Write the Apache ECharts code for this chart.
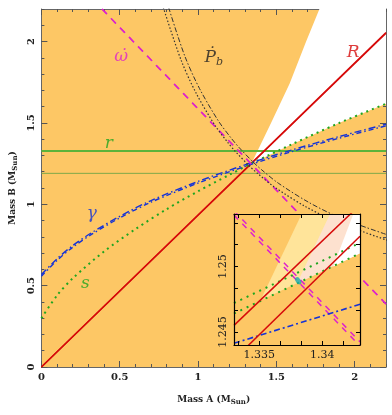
<!DOCTYPE html>
<html>
<head>
<meta charset="utf-8">
<script src="https://cdn.jsdelivr.net/npm/echarts@6/dist/echarts.min.js"></script>
<style>
html,body{margin:0;padding:0;background:#fff;}
#main{width:392px;height:415px;}
</style>
</head>
<body>
<div id="main"></div>
<script>
// tick positions, main panel (both axes 0 .. 2.2)
var mainMajor = [0, 0.5, 1, 1.5, 2];
var mainMinor = [0, 0.1, 0.2, 0.3, 0.4, 0.5, 0.6, 0.7, 0.8, 0.9, 1, 1.1, 1.2, 1.3, 1.4, 1.5, 1.6, 1.7, 1.8, 1.9, 2, 2.1, 2.2];
// inset ticks / labels
var insetX = [1.333, 1.343];
var insetY = [1.244, 1.254];
var insetXTicks = [1.33333, 1.335, 1.33667, 1.33833, 1.34, 1.34167];
var insetXLabels = [1.335, 1.34];
var insetYTicks = [1.245, 1.24667, 1.24833, 1.25, 1.25167, 1.25333];
var insetYLabels = [1.245, 1.25];

// main panel curves [mass A, mass B]
var ratioHigh = [[0, 0], [2.2, 2.0557]];
var ratioLow = [[0, 0], [2.2, 2.0511]];
var omegaA = [[0.386, 2.2], [2.2, 0.386]];
var omegaB = [[0.388, 2.2], [2.2, 0.388]];
var shapiroRHigh = [[0, 1.328], [2.2, 1.328]];
var shapiroRLow = [[0, 1.19], [2.2, 1.19]];
var shapiroS = [[0, 0.30], [0.1, 0.44], [0.2, 0.545], [0.4, 0.71], [0.6, 0.847], [0.8, 0.97], [1.0, 1.08],
  [1.2, 1.181], [1.338, 1.249], [1.6, 1.369], [1.9, 1.499], [2.2, 1.618]];
var gammaHigh = [[0, 0.568], [0.1, 0.665], [0.2, 0.746], [0.322, 0.826], [0.5, 0.926], [0.7, 1.023], [1.0, 1.140],
  [1.338, 1.255], [1.6, 1.334], [1.9, 1.416], [2.2, 1.492]];
var gammaLow = [[0, 0.558], [0.1, 0.655], [0.2, 0.736], [0.322, 0.816], [0.5, 0.916], [0.7, 1.013], [1.0, 1.130],
  [1.338, 1.245], [1.6, 1.324], [1.9, 1.406], [2.2, 1.482]];
var pbdotOuter = [[0.812, 2.21], [0.915, 1.912], [1.009, 1.712], [1.13, 1.512], [1.212, 1.406], [1.261, 1.35],
  [1.35, 1.261], [1.406, 1.212], [1.512, 1.13], [1.712, 1.009], [1.912, 0.915], [2.21, 0.812]];
var pbdotInner = [[0.778, 2.21], [0.891, 1.888], [0.985, 1.688], [1.106, 1.488], [1.188, 1.382], [1.237, 1.326],
  [1.326, 1.237], [1.382, 1.188], [1.488, 1.106], [1.688, 0.985], [1.888, 0.891], [2.21, 0.778]];
// allowed region (white)
var allowedRegion = [[1.341, 1.25], [1.466, 1.5], [1.585, 1.742], [1.69, 2.0], [1.775, 2.2], [2.2, 2.2],
  [2.2, 1.618], [1.9, 1.499], [1.6, 1.369], [1.341, 1.25]];

// inset curves
var insetRatioHigh = [[1.333, 1.2455], [1.343, 1.2547]];
var insetRatioLow = [[1.333, 1.2429], [1.343, 1.2523]];
var insetOmegaA = [[1.333, 1.25392], [1.343, 1.24392]];
var insetOmegaB = [[1.333, 1.25424], [1.343, 1.24424]];
var insetSHigh = [[1.333, 1.2472], [1.343, 1.2518]];
var insetSLow = [[1.333, 1.2464], [1.343, 1.2510]];
var insetGamma = [[1.333, 1.24413], [1.343, 1.24711]];
var insetYellow = [[1.3351, 1.2474], [1.33837, 1.254], [1.343, 1.254], [1.343, 1.2510]];
var insetPink = [[1.3380, 1.2487], [1.34062, 1.254], [1.343, 1.254], [1.343, 1.2510]];
var insetWhite = [[1.34088, 1.2500], [1.34247, 1.254], [1.343, 1.254], [1.343, 1.2510]];
var bestFit = [[1.3381, 1.2489]];

// curve labels
var labelText = ['{d|ω̇}', '{d|Ṗ}{b|b}', 'R', 'r', 'γ', 's'];
var labelPos = [[0.51, 1.91], [1.10, 1.90], [1.99, 1.93], [0.43, 1.375], [0.322, 0.945], [0.28, 0.513]];
var labelColor = ['#dd22cc', '#222', '#d60a0a', '#1fa51f', '#1533d6', '#1fa51f'];

var ORANGE = '#fdc765';
var FONT = 'DejaVu Serif';

var myChart = echarts.init(document.getElementById('main'));

function polygon(points, color, xi, z) {
  return {
    type: 'custom', xAxisIndex: xi, yAxisIndex: xi, z: z, silent: true,
    data: [points[0]],
    renderItem: function (params, api) {
      return {
        type: 'polygon',
        shape: {points: points.map(function (p) { return api.coord(p); })},
        style: {fill: color}
      };
    }
  };
}
function line(data, color, width, type, xi, z, smooth) {
  return {
    type: 'line', data: data, xAxisIndex: xi, yAxisIndex: xi, z: z,
    showSymbol: false, symbol: 'none', smooth: smooth ? 0.3 : false, silent: true,
    lineStyle: {color: color, width: width, type: type}
  };
}
function xAx(opt) {
  return Object.assign({
    type: 'value', gridIndex: 0, min: 0, max: 2.2, position: 'bottom',
    axisLine: {show: false, onZero: false},
    axisTick: {show: true, inside: true, length: 3, customValues: mainMinor, lineStyle: {color: '#555'}},
    axisLabel: {show: false}, splitLine: {show: false}
  }, opt);
}
function yAx(opt) {
  return Object.assign({
    type: 'value', gridIndex: 0, min: 0, max: 2.2, position: 'left',
    axisLine: {show: false, onZero: false},
    axisTick: {show: true, inside: true, length: 3, customValues: mainMinor, lineStyle: {color: '#555'}},
    axisLabel: {show: false}, splitLine: {show: false}
  }, opt);
}
var axisLine = {show: true, onZero: false, lineStyle: {color: '#666', width: 1}};
var majorTick = {show: true, inside: true, length: 6, customValues: mainMajor, lineStyle: {color: '#555'}};
var tickLabel = {
  show: true, customValues: mainMajor, fontFamily: FONT, fontSize: 10, fontWeight: 'bold', color: '#222',
  formatter: function (v) { return String(v); }
};
var nameStyle = {
  fontFamily: FONT, fontSize: 9, fontWeight: 'bold', color: '#222',
  rich: {
    a: {fontFamily: FONT, fontSize: 9, fontWeight: 'bold', color: '#222'},
    s: {fontFamily: FONT, fontSize: 7, fontWeight: 'bold', color: '#222', padding: [5, 0, 0, 0]}
  }
};
var insetLine = {show: true, onZero: false, lineStyle: {color: '#000', width: 1.2}};
var insetLabel = {
  fontFamily: FONT, fontSize: 11, color: '#222', margin: 5,
  formatter: function (v) { return String(v); }
};

var labelData = labelText.map(function (t, i) {
  return {value: labelPos[i], label: {formatter: t, color: labelColor[i]}};
});

myChart.setOption({
  animation: false,
  grid: [
    {left: 39, right: 6, top: 9, bottom: 48, show: true, backgroundColor: ORANGE, borderWidth: 0},
    {left: 234, top: 214, width: 126, height: 131, show: false}
  ],
  xAxis: [
    xAx({axisLine: axisLine, axisTick: majorTick,
      axisLabel: Object.assign({}, tickLabel, {margin: 5}),
      name: '{a|Mass A (M}{s|Sun}{a|)}', nameLocation: 'middle', nameGap: 27, nameTextStyle: nameStyle}),
    xAx({}),
    xAx({position: 'top', axisLine: axisLine, axisTick: majorTick}),
    xAx({position: 'top'}),
    {type: 'value', gridIndex: 1, min: insetX[0], max: insetX[1], position: 'bottom', z: 20,
      axisLine: insetLine,
      axisTick: {inside: true, length: 4, customValues: insetXTicks, lineStyle: {color: '#000'}},
      axisLabel: Object.assign({customValues: insetXLabels}, insetLabel), splitLine: {show: false}},
    {type: 'value', gridIndex: 1, min: insetX[0], max: insetX[1], position: 'top', z: 20,
      axisLine: insetLine,
      axisTick: {inside: true, length: 4, customValues: insetXTicks, lineStyle: {color: '#000'}},
      axisLabel: {show: false}, splitLine: {show: false}}
  ],
  yAxis: [
    yAx({axisLine: axisLine, axisTick: majorTick,
      axisLabel: Object.assign({}, tickLabel, {rotate: 90, margin: 5}),
      name: '{a|Mass B (M}{s|Sun}{a|)}', nameLocation: 'middle', nameGap: 20, nameTextStyle: nameStyle}),
    yAx({}),
    yAx({position: 'right', axisLine: axisLine, axisTick: majorTick}),
    yAx({position: 'right'}),
    {type: 'value', gridIndex: 1, min: insetY[0], max: insetY[1], position: 'left', z: 20,
      axisLine: insetLine,
      axisTick: {inside: true, length: 4, customValues: insetYTicks, lineStyle: {color: '#000'}},
      axisLabel: Object.assign({customValues: insetYLabels, rotate: 90}, insetLabel), splitLine: {show: false}},
    {type: 'value', gridIndex: 1, min: insetY[0], max: insetY[1], position: 'right', z: 20,
      axisLine: insetLine,
      axisTick: {inside: true, length: 4, customValues: insetYTicks, lineStyle: {color: '#000'}},
      axisLabel: {show: false}, splitLine: {show: false}}
  ],
  series: [
    polygon(allowedRegion, '#ffffff', 0, 1),
    line(shapiroRLow, '#7fa84a', 1, 'solid', 0, 2),
    line(shapiroRHigh, '#5cb33a', 2, 'solid', 0, 2),
    line(ratioHigh, '#d60a0a', 1.4, 'solid', 0, 3),
    line(ratioLow, '#d60a0a', 1.4, 'solid', 0, 3),
    line(shapiroS, '#1fa51f', 2, [2, 4], 0, 3, true),
    line(gammaHigh, '#1533d6', 1.4, [7, 3, 1.5, 3], 0, 3, true),
    line(gammaLow, '#1533d6', 1.4, [5, 3, 1.5, 3], 0, 3, true),
    line(omegaA, '#dd22cc', 1.4, [7, 6], 0, 3),
    line(omegaB, '#dd22cc', 1.4, [7, 6], 0, 3),
    line(pbdotOuter, '#333', 1, [5, 2, 1.5, 2], 0, 3, true),
    line(pbdotInner, '#333', 1.2, [1.5, 2], 0, 3, true),
    {
      type: 'scatter', xAxisIndex: 0, yAxisIndex: 0, z: 4, silent: true,
      symbolSize: 1, itemStyle: {color: 'rgba(0,0,0,0)'},
      label: {
        show: true, position: 'inside', fontFamily: FONT, fontStyle: 'italic', fontSize: 17,
        rich: {
          d: {fontFamily: FONT, fontStyle: 'italic', fontSize: 17},
          b: {fontFamily: FONT, fontStyle: 'italic', fontSize: 11, padding: [8, 0, 0, 0]}
        }
      },
      data: labelData
    },
    // inset
    polygon([[insetX[0], insetY[0]], [insetX[1], insetY[0]], [insetX[1], insetY[1]], [insetX[0], insetY[1]]], ORANGE, 4, 10),
    polygon(insetYellow, '#ffe49a', 4, 11),
    polygon(insetPink, '#fde1cf', 4, 11),
    polygon(insetWhite, '#ffffff', 4, 11),
    line(insetOmegaA, '#dd22cc', 1.5, [6, 6], 4, 12),
    line(insetOmegaB, '#dd22cc', 1.5, [6, 6], 4, 12),
    line(insetSHigh, '#1fa51f', 2, [2, 5], 4, 12),
    line(insetSLow, '#1fa51f', 2, [2, 5], 4, 12),
    line(insetGamma, '#1533d6', 1.6, [6, 3, 2, 3], 4, 12),
    line(insetRatioHigh, '#d60a0a', 1.5, 'solid', 4, 13),
    line(insetRatioLow, '#d60a0a', 1.5, 'solid', 4, 13),
    {
      type: 'scatter', xAxisIndex: 4, yAxisIndex: 4, z: 14, silent: true,
      symbol: 'circle', symbolSize: [5, 8], symbolRotate: 35,
      itemStyle: {color: '#1aa9ad'}, data: bestFit
    }
  ]
});
</script>
</body>
</html>
